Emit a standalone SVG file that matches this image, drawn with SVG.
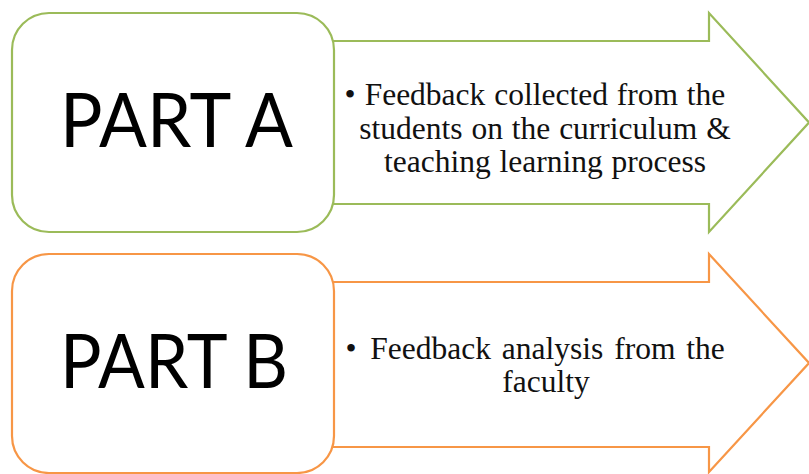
<svg xmlns="http://www.w3.org/2000/svg" width="809" height="474" viewBox="0 0 809 474">
<style>
.green{fill:#ffffff;stroke:#9BBB59;stroke-width:2.2;stroke-linejoin:miter}
.orange{fill:#ffffff;stroke:#F79646;stroke-width:2.2;stroke-linejoin:miter}
.part{font-family:Lato,"Open Sans","Liberation Sans",sans-serif;font-size:75px;fill:#000;text-anchor:middle}
.body{font-family:"Liberation Serif","Times New Roman",serif;font-size:31.5px;fill:#111;text-anchor:middle}
.bullet{font-family:"Liberation Serif","Times New Roman",serif;font-size:31.5px;fill:#111;text-anchor:middle}
</style>
<rect width="809" height="474" fill="#ffffff"/>
<g id="connectors"/>
<g id="arrowA">
<path class="green" d="M330 41 L709 41 L709 13 L809 122.5 L709 232 L709 204 L330 204 Z"/>
<text class="bullet" x="350" y="105">•</text>
<text class="body" x="545" y="105" word-spacing="1">Feedback collected from the</text>
<text class="body" x="545" y="139" word-spacing="1">students on the curriculum &amp;</text>
<text class="body" x="545" y="172" word-spacing="1">teaching learning process</text>
</g>
<g id="partA">
<rect class="green" x="12" y="13" width="322" height="219" rx="37" ry="37"/>
<text class="part" x="176.5" y="147" textLength="233" lengthAdjust="spacingAndGlyphs">PART A</text>
</g>
<g id="arrowB">
<path class="orange" d="M330 282 L709 282 L709 254 L809 363 L709 472 L709 447 L330 447 Z"/>
<text class="bullet" x="351" y="359">•</text>
<text class="body" x="547.5" y="359" word-spacing="3">Feedback analysis from the</text>
<text class="body" x="546" y="392">faculty</text>
</g>
<g id="partB">
<rect class="orange" x="12" y="254" width="322" height="219" rx="37" ry="37"/>
<text class="part" x="174" y="388" textLength="228" lengthAdjust="spacingAndGlyphs">PART B</text>
</g>
</svg>
